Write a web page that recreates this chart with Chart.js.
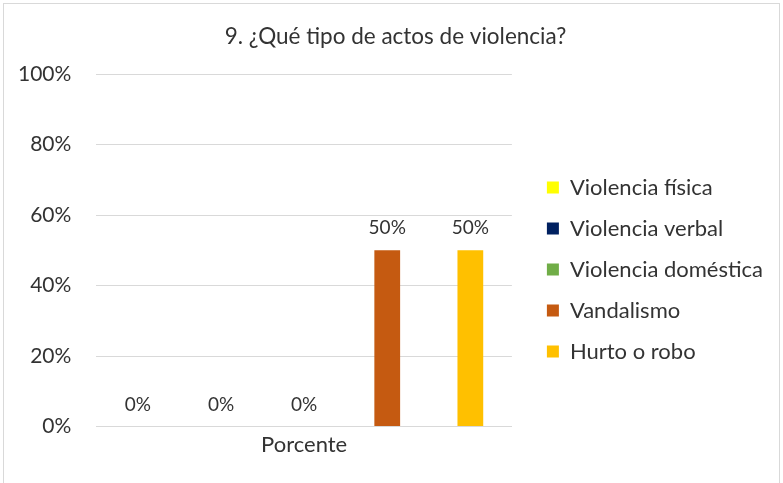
<!DOCTYPE html>
<html><head><meta charset="utf-8">
<script src="https://cdn.jsdelivr.net/npm/chart.js@4/dist/chart.umd.min.js"></script>
<style>
html,body{margin:0;padding:0;background:#fff;}
#wrap{position:relative;width:783px;height:483px;}
#frame{position:absolute;left:3px;top:3px;width:777px;height:490px;border:1px solid #d9d9d9;box-sizing:border-box;}
canvas{position:absolute;left:0;top:0;}
</style></head>
<body><div id="wrap"><div id="frame"></div><canvas id="c" width="783" height="483"></canvas></div>
<script>
const title = "9. ¿Qué tipo de actos de violencia?";
const categories = ["Porcente"];
const seriesNames = ["Violencia física","Violencia verbal","Violencia doméstica","Vandalismo","Hurto o robo"];
const seriesValues = [[0],[0],[0],[50],[50]];
const seriesColors = ["#FFFF00","#002060","#70AD47","#C55A11","#FFC000"];
const yTicks = [0,20,40,60,80,100];

const FONT = "Lato, 'Open Sans', sans-serif";
const TXT = "#333333";

const labelPlugin = {
  id:'valLabels',
  afterDatasetsDraw(chart){
    const ctx = chart.ctx;
    ctx.save();
    ctx.font = "19px " + FONT;
    ctx.fillStyle = TXT;
    ctx.textAlign = 'center';
    ctx.textBaseline = 'middle';
    chart.data.datasets.forEach((ds,i)=>{
      chart.getDatasetMeta(i).data.forEach((bar,j)=>{
        ctx.fillText(ds.data[j] + "%", bar.x, bar.y - 22);
      });
    });
    ctx.restore();
  }
};

new Chart(document.getElementById('c'), {
  type:'bar',
  data:{
    labels:categories,
    datasets: seriesNames.map((n,i)=>({label:n,data:seriesValues[i],backgroundColor:seriesColors[i],categoryPercentage:1,barPercentage:0.31}))
  },
  options:{
    responsive:false,
    animation:false,
    devicePixelRatio:1,
    layout:{padding:{left:18,right:10,top:11,bottom:20}},
    plugins:{
      title:{display:true,text:title,color:TXT,font:{family:FONT,size:22.5,weight:'normal'},padding:{top:12,bottom:24}},
      legend:{position:'right',align:'center',fullSize:false,maxWidth:320,
        title:{display:true,text:' ',font:{family:FONT,size:22},padding:6},
        labels:{color:TXT,font:{family:FONT,size:22},boxWidth:12,boxHeight:12,padding:19}},
      tooltip:{enabled:false}
    },
    scales:{
      x:{grid:{display:false,drawTicks:false},border:{display:true,color:'#d9d9d9',width:1},ticks:{color:TXT,font:{family:FONT,size:22},padding:5}},
      y:{min:0,max:100,afterBuildTicks(ax){ax.ticks=yTicks.map(v=>({value:v}));},
         afterFit(ax){ax.width = ax.width - 25;},
         grid:{color:'#d9d9d9',drawTicks:false},border:{display:false},
         ticks:{color:TXT,font:{family:FONT,size:21},padding:25,callback:v=>v+"%"}},
      y2:{position:'right',display:true,grid:{display:false},border:{display:false},ticks:{display:false},afterFit(ax){ax.width=16;}}
    }
  },
  plugins:[labelPlugin]
});
</script></body></html>
